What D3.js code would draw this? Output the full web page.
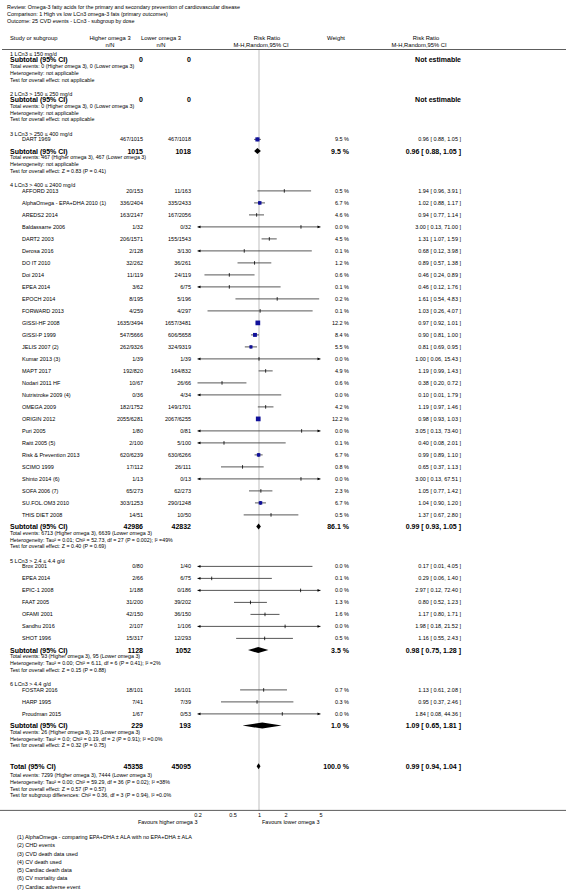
<!DOCTYPE html>
<html><head><meta charset="utf-8">
<script src="https://cdn.jsdelivr.net/npm/d3@7"></script>
<style>
body{margin:0;background:#fff}
svg{display:block}
text{font-family:"Liberation Sans",Arial,Helvetica,sans-serif;fill:#000}
</style>
</head><body>
<svg id="chart" width="566" height="891"></svg>
<script>
// ---------------- data ----------------
const headerLines = [
  "Review:  Omega-3 fatty acids for the primary and secondary prevention of cardiovascular disease",
  "Comparison:  1 High vs low LCn3 omega-3 fats (primary outcomes)",
  "Outcome:  25 CVD events - LCn3 - subgroup by dose"
];
const groupLabels = [
  "1 LCn3 \u2264 150 mg/d",
  "2 LCn3 > 150 \u2264 250 mg/d",
  "3 LCn3 > 250 \u2264 400 mg/d",
  "4 LCn3 > 400 \u2264 2400 mg/d",
  "5 LCn3 > 2.4 \u2264 4.4 g/d",
  "6 LCn3 > 4.4 g/d"
];
const studyNames = [
  "DART 1969",
  "AFFORD 2013","AlphaOmega - EPA+DHA 2010 (1)","AREDS2 2014","Baldassarre 2006","DART2 2003",
  "Derosa 2016","DO IT 2010","Doi 2014","EPEA 2014","EPOCH 2014","FORWARD 2013","GISSI-HF 2008",
  "GISSI-P 1999","JELIS 2007 (2)","Kumar 2013 (3)","MAPT 2017","Nodari 2011 HF","Nutristroke 2009 (4)",
  "OMEGA 2009","ORIGIN 2012","Puri 2005","Raitt 2005 (5)","Risk & Prevention 2013","SCIMO 1999",
  "Shinto 2014 (6)","SOFA 2006 (7)","SU.FOL.OM3 2010","THIS DIET 2008",
  "Brox 2001","EPEA 2014","EPIC-1 2008","FAAT 2005","OFAMI 2001","Sandhu 2016","SHOT 1996",
  "FOSTAR 2016","HARP 1995","Proudman 2015"
];
const studyGroup = [2,
  3,3,3,3,3,3,3,3,3,3,3,3,3,3,3,3,3,3,3,3,3,3,3,3,3,3,3,3,
  4,4,4,4,4,4,4,
  5,5,5];
const higherNN = ["467/1015",
  "20/153","336/2404","163/2147","1/32","206/1571","2/128","32/262","11/119","3/62","8/195","4/259",
  "1635/3494","547/5666","262/9326","1/39","192/820","10/67","0/36","182/1752","2055/6281","1/80",
  "2/100","620/6239","17/112","1/13","65/273","303/1253","14/51",
  "0/80","2/66","1/188","31/200","42/150","2/107","15/317",
  "18/101","7/41","1/67"];
const lowerNN = ["467/1018",
  "11/163","335/2433","167/2056","0/32","155/1543","3/130","36/261","24/119","6/75","5/196","4/297",
  "1657/3481","606/5658","324/9319","1/39","164/832","26/66","4/34","149/1701","2067/6255","0/81",
  "5/100","630/6266","26/111","0/13","62/273","290/1248","10/50",
  "1/40","6/75","0/186","39/202","36/150","1/106","12/293",
  "16/101","7/39","0/53"];
const weights = [9.5,
  0.5,6.7,4.6,0.0,4.5,0.1,1.2,0.6,0.1,0.2,0.1,12.2,8.4,5.5,0.0,4.9,0.6,0.0,4.2,12.2,0.0,0.1,6.7,0.8,0.0,2.3,6.7,0.5,
  0.0,0.1,0.0,1.3,1.6,0.0,0.5,
  0.7,0.3,0.0];
const riskRatio = [0.96,
  1.94,1.02,0.94,3.00,1.31,0.68,0.89,0.46,0.46,1.61,1.03,0.97,0.90,0.81,1.00,1.19,0.38,0.10,1.19,0.98,3.05,0.40,0.99,0.65,3.00,1.05,1.04,1.37,
  0.17,0.29,2.97,0.80,1.17,1.98,1.16,
  1.13,0.95,1.84];
const ciLow = [0.88,
  0.96,0.88,0.77,0.13,1.07,0.12,0.57,0.24,0.12,0.54,0.26,0.92,0.81,0.69,0.06,0.99,0.20,0.01,0.97,0.93,0.13,0.08,0.89,0.37,0.13,0.77,0.90,0.67,
  0.01,0.06,0.12,0.52,0.80,0.18,0.55,
  0.61,0.37,0.08];
const ciHigh = [1.05,
  3.91,1.17,1.14,71.00,1.59,3.98,1.38,0.89,1.76,4.83,4.07,1.01,1.00,0.95,15.43,1.43,0.72,1.79,1.46,1.03,73.40,2.01,1.10,1.13,67.51,1.42,1.20,2.80,
  4.05,1.40,72.40,1.23,1.71,21.52,2.43,
  2.08,2.46,44.36];

const subHigher = [0,0,1015,42986,1128,229];
const subLower  = [0,0,1018,42832,1052,193];
const subWeight = [null,null,9.5,86.1,3.5,1.0];
const subRR     = [null,null,0.96,0.99,0.98,1.09];
const subLow    = [null,null,0.88,0.93,0.75,0.65];
const subHigh   = [null,null,1.05,1.05,1.28,1.81];
const subEvents = [
  "Total events: 0 (Higher omega 3), 0 (Lower omega 3)",
  "Total events: 0 (Higher omega 3), 0 (Lower omega 3)",
  "Total events: 467 (Higher omega 3), 467 (Lower omega 3)",
  "Total events: 6713 (Higher omega 3), 6639 (Lower omega 3)",
  "Total events: 93 (Higher omega 3), 95 (Lower omega 3)",
  "Total events: 26 (Higher omega 3), 23 (Lower omega 3)"];
const subHeterogeneity = [
  "Heterogeneity: not applicable",
  "Heterogeneity: not applicable",
  "Heterogeneity: not applicable",
  "Heterogeneity: Tau\u00b2 = 0.01; Chi\u00b2 = 52.73, df = 27 (P = 0.002); I\u00b2 =49%",
  "Heterogeneity: Tau\u00b2 = 0.00; Chi\u00b2 = 6.11, df = 6 (P = 0.41); I\u00b2 =2%",
  "Heterogeneity: Tau\u00b2 = 0.0; Chi\u00b2 = 0.19, df = 2 (P = 0.91); I\u00b2 =0.0%"];
const subOverall = [
  "Test for overall effect: not applicable",
  "Test for overall effect: not applicable",
  "Test for overall effect: Z = 0.83 (P = 0.41)",
  "Test for overall effect: Z = 0.40 (P = 0.69)",
  "Test for overall effect: Z = 0.15 (P = 0.88)",
  "Test for overall effect: Z = 0.32 (P = 0.75)"];

const totalHigher = 45358, totalLower = 45095, totalWeight = 100.0;
const totalRR = 0.99, totalLow = 0.94, totalHigh = 1.04;
const totalLines = [
  "Total events: 7299 (Higher omega 3), 7444 (Lower omega 3)",
  "Heterogeneity: Tau\u00b2 = 0.00; Chi\u00b2 = 59.29, df = 36 (P = 0.02); I\u00b2 =38%",
  "Test for overall effect: Z = 0.57 (P = 0.57)",
  "Test for subgroup differences: Chi\u00b2 = 0.36, df = 3 (P = 0.94), I\u00b2 =0.0%"];

const axisTicks = [0.2, 0.5, 1, 2, 5];
const favoursLeft = "Favours higher omega 3";
const favoursRight = "Favours lower omega 3";
const footnotes = [
  "(1) AlphaOmega - comparing EPA+DHA \u00b1 ALA with no EPA+DHA \u00b1 ALA",
  "(2) CHD events",
  "(3) CVD death data used",
  "(4) CV death used",
  "(5) Cardiac death data",
  "(6) CV mortality data",
  "(7) Cardiac adverse event"];

// ---------------- drawing ----------------
const svg = d3.select("#chart");
const x = d3.scaleLog().domain([0.2, 5]).range([197.5, 320.5]);
const sq = d3.scaleSqrt().domain([0, 12.2]).range([0, 4.7]);
const f2 = d3.format(".2f");
const ciText = (r, l, h) => `${f2(r)} [ ${f2(l)}, ${f2(h)} ]`;
const wText = w => w.toFixed(1) + " %";

const COL = {name: 22, left: 10, higher: 143, lower: 191, weight: 349, ci: 461};
const FS = 5.5, FSB = 7, FSI = 5.3;
const L = {first: 54, a: 5.8, row: 12, toSub: 11.7, b: 6.3, c: 6.7, d: 14.3, toTotal: 21, tb: 9, toAxis: 15};

function txt(g, xx, yy, s, opt = {}) {
  return g.append("text").attr("x", xx).attr("y", yy)
    .attr("dominant-baseline", "central")
    .attr("text-anchor", opt.anchor || "start")
    .attr("font-size", opt.size || FS)
    .attr("font-weight", opt.bold ? "bold" : null)
    .text(s);
}

// header
headerLines.forEach((s, i) => txt(svg, 7, 7 + i * 7, s, {size: 5.45}));
const hy1 = 38, hy2 = 44.5;
txt(svg, 10, hy1, "Study or subgroup", {size: 5.8});
txt(svg, 110, hy1, "Higher omega 3", {size: 5.8, anchor: "middle"});
txt(svg, 110, hy2, "n/N", {size: 5.8, anchor: "middle"});
txt(svg, 161, hy1, "Lower omega 3", {size: 5.8, anchor: "middle"});
txt(svg, 161, hy2, "n/N", {size: 5.8, anchor: "middle"});
txt(svg, 267, hy1, "Risk Ratio", {size: 5.8, anchor: "middle"});
txt(svg, 261, hy2, "M-H,Random,95% CI", {size: 5.8, anchor: "middle"});
txt(svg, 336, hy1, "Weight", {size: 5.8, anchor: "middle"});
txt(svg, 426, hy1, "Risk Ratio", {size: 5.8, anchor: "middle"});
txt(svg, 419, hy2, "M-H,Random,95% CI", {size: 5.8, anchor: "middle"});

svg.append("line").attr("x1", 2).attr("x2", 566).attr("y1", 49.5).attr("y2", 49.5)
  .attr("stroke", "#333").attr("stroke-width", 0.8);

// layout rows
const rows = [];
let y = L.first;
groupLabels.forEach((lab, gi) => {
  rows.push({type: "label", y, text: lab});
  const idx = studyGroup.map((g, i) => g === gi ? i : -1).filter(i => i >= 0);
  y += L.a;
  idx.forEach((si, k) => { rows.push({type: "study", y, si}); if (k < idx.length - 1) y += L.row; });
  if (idx.length) y += L.toSub;
  rows.push({type: "subtotal", y, gi});
  y += L.b;
  [subEvents[gi], subHeterogeneity[gi], subOverall[gi]].forEach((s, k) => {
    rows.push({type: "info", y, text: s}); if (k < 2) y += L.c;
  });
  y += L.d;
});
y = y - L.d + L.toTotal;
const totalY = y;
y += L.tb;
totalLines.forEach((s, k) => { rows.push({type: "info", y, text: s}); if (k < 3) y += L.c; });
const axisY = y + L.toAxis;

// reference line at 1
svg.append("line").attr("x1", x(1)).attr("x2", x(1)).attr("y1", 50).attr("y2", axisY)
  .attr("stroke", "#d4d4d4").attr("stroke-width", 1.5);

const g = svg.append("g");
function ciMark(yy, r, lo, hi, w) {
  const xl = x(Math.max(lo, 0.2)), xr = x(Math.min(hi, 5));
  g.append("line").attr("x1", xl).attr("x2", xr).attr("y1", yy).attr("y2", yy)
    .attr("stroke", "#444").attr("stroke-width", 0.9);
  if (lo < 0.2) g.append("path").attr("d", `M${xl},${yy}l3,-1.3l0,2.6z`).attr("fill", "#000");
  if (hi > 5) g.append("path").attr("d", `M${xr},${yy}l-3,-1.3l0,2.6z`).attr("fill", "#000");
  if (r >= 0.2 && r <= 5) {
    g.append("line").attr("x1", x(r)).attr("x2", x(r)).attr("y1", yy - 1.8).attr("y2", yy + 1.8)
      .attr("stroke", "#000").attr("stroke-width", 0.8);
    const s = sq(w);
    if (s > 3.1) g.append("rect").attr("x", x(r) - s / 2).attr("y", yy - s / 2)
      .attr("width", s).attr("height", s).attr("fill", "#10109a");
  }
}
function diamond(yy, r, lo, hi, h) {
  g.append("path").attr("d", `M${x(lo)},${yy}L${x(r)},${yy - h}L${x(hi)},${yy}L${x(r)},${yy + h}Z`)
    .attr("fill", "#000");
}

rows.forEach(rw => {
  if (rw.type === "label") txt(g, COL.left, rw.y, rw.text);
  else if (rw.type === "info") txt(g, COL.left, rw.y, rw.text, {size: FSI});
  else if (rw.type === "study") {
    const i = rw.si;
    txt(g, COL.name, rw.y, studyNames[i]);
    txt(g, COL.higher, rw.y, higherNN[i], {anchor: "end"});
    txt(g, COL.lower, rw.y, lowerNN[i], {anchor: "end"});
    txt(g, COL.weight, rw.y, wText(weights[i]), {anchor: "end"});
    txt(g, COL.ci, rw.y, ciText(riskRatio[i], ciLow[i], ciHigh[i]), {anchor: "end"});
    ciMark(rw.y, riskRatio[i], ciLow[i], ciHigh[i], weights[i]);
  } else if (rw.type === "subtotal") {
    const i = rw.gi;
    txt(g, COL.left, rw.y, "Subtotal (95% CI)", {size: FSB, bold: true});
    txt(g, COL.higher, rw.y, subHigher[i], {size: FSB, bold: true, anchor: "end"});
    txt(g, COL.lower, rw.y, subLower[i], {size: FSB, bold: true, anchor: "end"});
    if (subRR[i] == null) {
      txt(g, COL.ci, rw.y, "Not estimable", {size: FSB, bold: true, anchor: "end"});
    } else {
      txt(g, COL.weight, rw.y, wText(subWeight[i]), {size: FSB, bold: true, anchor: "end"});
      txt(g, COL.ci, rw.y, ciText(subRR[i], subLow[i], subHigh[i]), {size: FSB, bold: true, anchor: "end"});
      diamond(rw.y, subRR[i], subLow[i], subHigh[i], 3);
    }
  }
});

// total
txt(g, COL.left, totalY, "Total (95% CI)", {size: FSB, bold: true});
txt(g, COL.higher, totalY, totalHigher, {size: FSB, bold: true, anchor: "end"});
txt(g, COL.lower, totalY, totalLower, {size: FSB, bold: true, anchor: "end"});
txt(g, COL.weight, totalY, wText(totalWeight), {size: FSB, bold: true, anchor: "end"});
txt(g, COL.ci, totalY, ciText(totalRR, totalLow, totalHigh), {size: FSB, bold: true, anchor: "end"});
diamond(totalY, totalRR, totalLow, totalHigh, 3);

// axis
svg.append("line").attr("x1", 0).attr("x2", 566).attr("y1", axisY).attr("y2", axisY)
  .attr("stroke", "#333").attr("stroke-width", 0.8);
const ax = svg.append("g").attr("transform", `translate(0,${axisY})`)
  .call(d3.axisBottom(x).tickValues(axisTicks).tickFormat(d => String(d)).tickSize(0).tickPadding(3));
ax.select(".domain").remove();
ax.selectAll("text").attr("font-size", FS).attr("font-family", "Liberation Sans, Arial, sans-serif");

txt(svg, x(0.2), axisY + 11.5, favoursLeft, {anchor: "end"});
txt(svg, x(1) + 3, axisY + 11.5, favoursRight);

footnotes.forEach((s, i) => txt(svg, 17, axisY + 26.5 + i * 8.3, s));
</script>
</body></html>
